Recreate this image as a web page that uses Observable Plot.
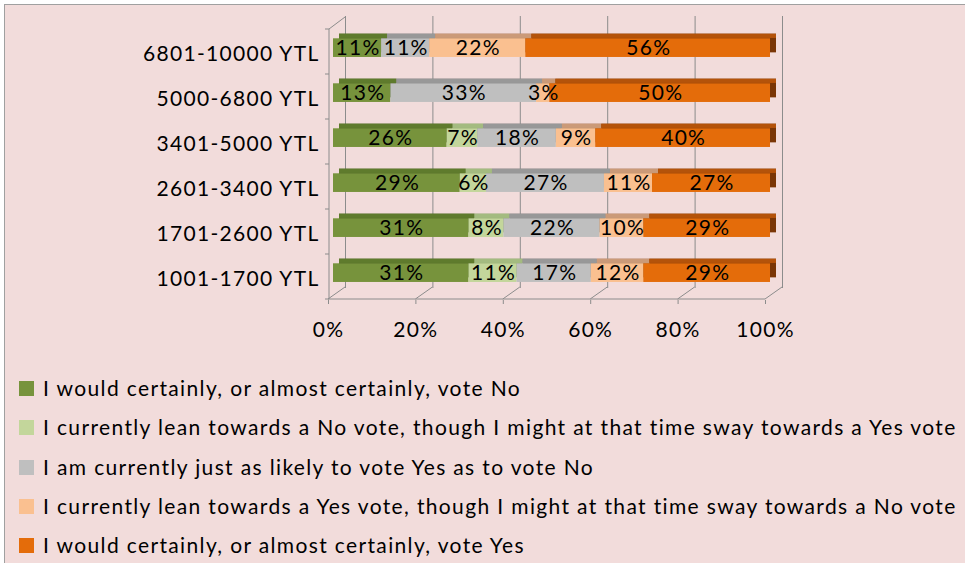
<!DOCTYPE html>
<html><head><meta charset="utf-8">
<script src="https://cdn.jsdelivr.net/npm/d3@7"></script>
<script src="https://cdn.jsdelivr.net/npm/@observablehq/plot@0.6"></script>
<style>
html,body{margin:0;padding:0;}
body{background:#fff;width:965px;height:563px;overflow:hidden;position:relative;font-family:Lato,"Open Sans",sans-serif;}
#panel{position:absolute;left:4px;top:4px;width:1000px;height:600px;background:#F2DCDB;border-left:1px solid #A0A0A0;border-top:1px solid #A0A0A0;}
#chart{position:absolute;left:0;top:0;}
#legend{position:absolute;left:0;top:0;width:965px;height:563px;}
.item{position:absolute;left:19px;height:20px;white-space:nowrap;}
.sw{position:absolute;left:0;top:2px;width:15px;height:15px;}
.lab{position:absolute;left:24px;top:-4px;font-size:21px;line-height:26px;color:#000;letter-spacing:1.36px;}
</style></head><body>
<div id="panel"></div><div id="chart"></div><div id="legend"></div>
<script>
// Categories (top to bottom)
const categories = ["6801-10000 YTL","5000-6800 YTL","3401-5000 YTL","2601-3400 YTL","1701-2600 YTL","1001-1700 YTL"];
// Series names
const seriesNames = [
  "I would certainly, or almost certainly, vote No",
  "I currently lean towards a No vote, though I might at that time sway towards a Yes vote",
  "I am currently just as likely to vote Yes as to vote No",
  "I currently lean towards a Yes vote, though I might at that time sway towards a No vote",
  "I would certainly, or almost certainly, vote Yes"
];
// Values (%) per series, aligned with categories
const certainNo  = [11, 13, 26, 29, 31, 31];
const leanNo     = [0, 0, 7, 6, 8, 11];
const undecided  = [11, 33, 18, 27, 22, 17];
const leanYes    = [22, 3, 9, 11, 10, 12];
const certainYes = [56, 50, 40, 27, 29, 29];
// Tick values
const xTicks = [0, 0.2, 0.4, 0.6, 0.8, 1];
const xTickLabels = ["0%","20%","40%","60%","80%","100%"];
// Colours
const frontColors = ["#77933C","#C3D69B","#BFBFBF","#FAC090","#E46C0A"];
const topColors   = ["#5F7B2D","#A4BB80","#989898","#CB9A78","#B4530A"];
const sideColors  = ["#4A6022","#8A9F68","#7A7A7A","#A57A5C","#7A3606"];

const seriesValues = [certainNo, leanNo, undecided, leanYes, certainYes];
const rows = [];
seriesValues.forEach((vals, s) => {
  vals.forEach((v, i) => rows.push({cat: categories[i], s, series: seriesNames[s], value: v}));
});

const step = 272 / 6;
const frontTop = 9.3, frontH = 19;
const depthY = 4.6, depthX = 6;
const st = (o) => Plot.stackX({x: "value", y: "cat", z: "s", offset: "normalize", ...o});

const chart = Plot.plot({
  width: 965, height: 350,
  marginLeft: 333, marginRight: 195, marginTop: 28, marginBottom: 50,
  style: {background: "transparent", fontFamily: "Lato, 'Open Sans', sans-serif", overflow: "visible", letterSpacing: "1.3px"},
  x: {domain: [0, 1], axis: null, label: null},
  y: {domain: categories, padding: 0, axis: null, label: null},
  color: {type: "identity"},
  marks: [
    // back wall gridlines
    Plot.ruleX(xTicks, {x: d => d, dx: 12, dy: -12, stroke: "#8C8C8C", strokeWidth: 1}),
    // side / depth faces
    Plot.barX(rows, st({fill: d => sideColors[d.s], insetTop: frontTop - depthY, insetBottom: step - frontTop - frontH + depthY, dx: depthX})),
    // top faces
    Plot.barX(rows, st({fill: d => topColors[d.s], insetTop: frontTop - depthY, insetBottom: step - frontTop, dx: depthX})),
    // front faces
    Plot.barX(rows, st({fill: d => frontColors[d.s], insetTop: frontTop, insetBottom: step - frontTop - frontH})),
    // value labels
    Plot.text(rows.filter(d => d.value > 0), st({text: d => d.value + "%", fontSize: 21, fill: "black", dy: -3.5, dx: 0.6})),
    // axes
    Plot.axisX(xTicks, {tickFormat: (d, i) => xTickLabels[i], tickSize: 4, tickPadding: 18, dx: -5, fontSize: 21, stroke: "#8C8C8C", fill: "black", label: null}),
    Plot.axisY(categories, {tickSize: 0, tickPadding: 14, dy: 2.5, fontSize: 21, fill: "black", label: null})
  ]
});
document.getElementById("chart").appendChild(chart);

// 3D frame decorations computed from the plot's scales
const xs = chart.scale("x"), ys = chart.scale("y");
const svg = d3.select(chart);
const g = svg.append("g").attr("stroke", "#8C8C8C").attr("stroke-width", 1).attr("fill", "none");
const yTop = ys.apply(categories[0]);
const yBot = ys.apply(categories[categories.length - 1]) + ys.step;
const x0 = xs.apply(0), x1 = xs.apply(1);
// left front wall line
g.append("line").attr("x1", x0 - 4).attr("x2", x0 - 4).attr("y1", yTop).attr("y2", yBot);
// top diagonal of the side wall
g.append("line").attr("x1", x0 - 4).attr("y1", yTop).attr("x2", x0 + 12).attr("y2", yTop - 12);
// left wall category ticks
categories.forEach((c, i) => {
  const yy = ys.apply(c);
  g.append("line").attr("x1", x0 - 8).attr("x2", x0 - 4).attr("y1", yy).attr("y2", yy);
});
g.append("line").attr("x1", x0 - 8).attr("x2", x0 - 4).attr("y1", yBot).attr("y2", yBot);
// floor front edge
g.append("line").attr("x1", x0 - 5).attr("x2", x1 - 5).attr("y1", yBot).attr("y2", yBot);
// floor diagonals
xTicks.forEach(v => {
  const xx = xs.apply(v);
  g.append("line").attr("x1", xx - 5).attr("y1", yBot).attr("x2", xx + 12).attr("y2", yBot - 12);
});

// Legend
const legend = document.getElementById("legend");
seriesNames.forEach((name, i) => {
  const it = document.createElement("div");
  it.className = "item";
  it.style.top = (379 + i * 39.3) + "px";
  it.innerHTML = `<div class="sw" style="background:${frontColors[i]}"></div><div class="lab">${name}</div>`;
  legend.appendChild(it);
});
</script>
</body></html>
